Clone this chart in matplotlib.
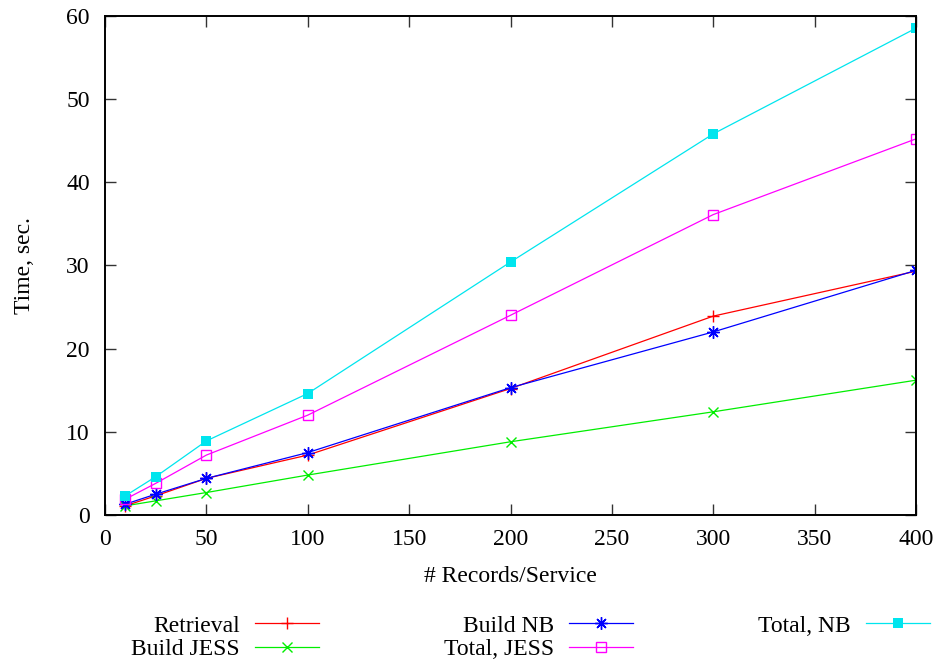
import matplotlib
matplotlib.use("Agg")
import matplotlib.pyplot as plt

plt.rcParams['font.family'] = ['Liberation Serif', 'DejaVu Serif']
plt.rcParams['font.size'] = 17

# records per service
records = [10, 25, 50, 100, 200, 300, 400]

# timings in seconds
retrieval = [1.1, 2.3, 4.4, 7.2, 15.2, 23.9, 29.3]
build_jess = [1.1, 1.7, 2.7, 4.8, 8.8, 12.4, 16.2]
build_nb = [1.3, 2.5, 4.4, 7.5, 15.3, 22.0, 29.4]
total_jess = [1.9, 3.8, 7.2, 12.0, 24.0, 36.1, 45.2]
total_nb = [2.3, 4.6, 8.9, 14.6, 30.4, 45.8, 58.5]

x_ticks = [0, 50, 100, 150, 200, 250, 300, 350, 400]
y_ticks = [0, 10, 20, 30, 40, 50, 60]

fig = plt.figure(figsize=(9.41, 6.65), dpi=100)
ax = fig.add_axes([105 / 941, 1 - 515 / 665, 811 / 941, (515 - 15.7) / 665])

lw = 0.9
ax.plot(records, retrieval, color='#ff0000', lw=lw, marker='+', ms=8, mew=1.0, label='Retrieval')
ax.plot(records, build_jess, color='#00ee00', lw=lw, marker='x', ms=7, mew=1.0, label='Build JESS')
ax.plot(records, build_nb, color='#0000ff', lw=lw, marker=(8, 2, 0), ms=9, mew=1.0, label='Build NB')
ax.plot(records, total_jess, color='#ff00ff', lw=lw, marker='s', ms=7, mew=1.0, mfc='none', label='Total, JESS')
ax.plot(records, total_nb, color='#00e5ee', lw=lw, marker='s', ms=7, mew=0, label='Total, NB')

ax.set_xlim(0, 400)
ax.set_ylim(0, 60)
ax.set_xticks(x_ticks)
ax.set_yticks(y_ticks)
ax.tick_params(direction='in', length=8, width=1.0, top=True, right=True, color='#333333')
ax.tick_params(axis='x', pad=10)
ax.tick_params(axis='y', pad=11)
for s in ax.spines.values():
    s.set_linewidth(1.4)

ax.set_xlabel('# Records/Service', va='top')
ax.xaxis.set_label_coords(0.5, -0.102)
ax.set_ylabel('Time, sec.')
ax.yaxis.set_label_coords(-0.086, 0.5)

fig.legend(loc='upper right', bbox_to_anchor=(930 / 941, 1 - 615 / 665), ncol=3,
           markerfirst=False, frameon=False, numpoints=1, handlelength=2.7,
           handletextpad=0.65, columnspacing=5.3, labelspacing=0.1,
           borderpad=0, borderaxespad=0)

fig.savefig('out.png', dpi=100)
